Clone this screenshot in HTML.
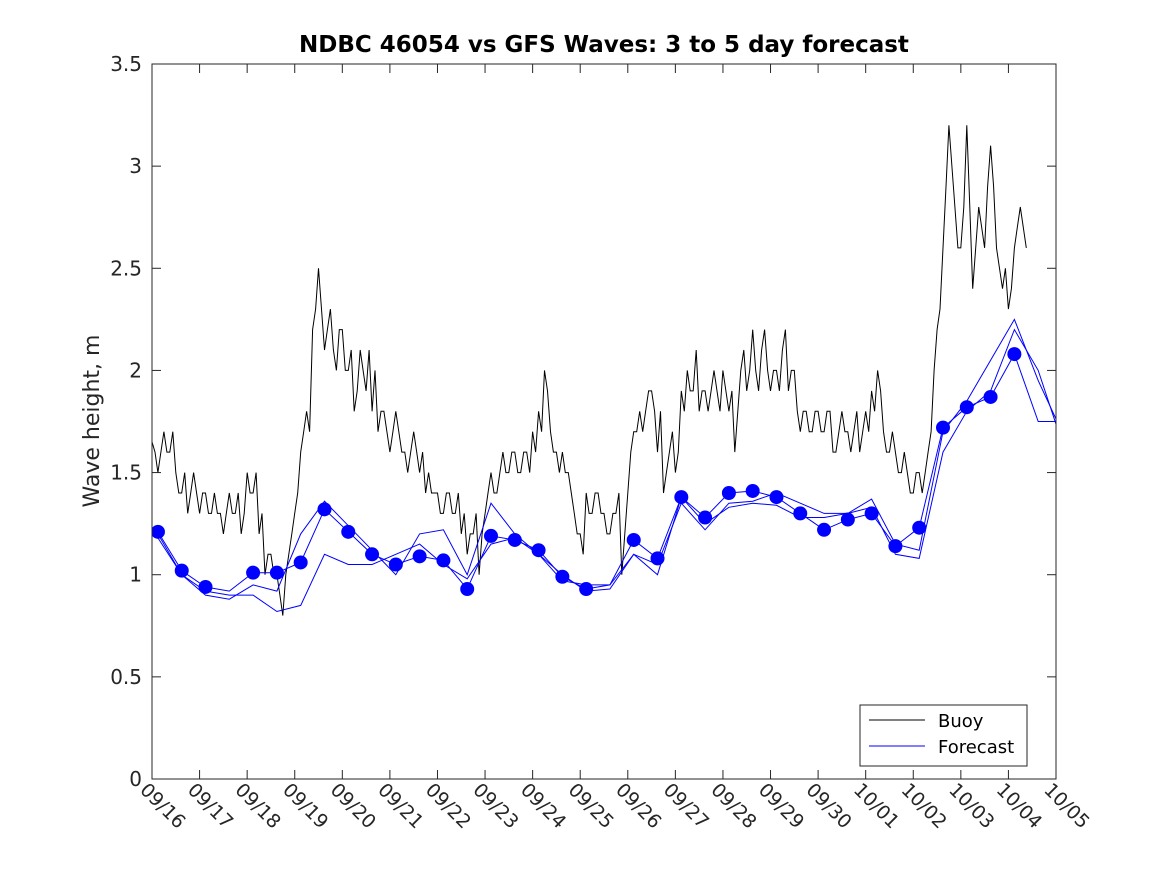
<!DOCTYPE html>
<html><head><meta charset="utf-8"><style>
html,body{margin:0;padding:0;background:#fff;}
svg{display:block;font-family:"DejaVu Sans","Liberation Sans",sans-serif;}
</style></head><body>
<svg id="chart" width="1167" height="875">
<rect x="0" y="0" width="1167" height="875" fill="#fff"/>
<text x="604" y="52" text-anchor="middle" font-size="23" font-weight="bold">NDBC 46054 vs GFS Waves: 3 to 5 day forecast</text>
<text transform="translate(99,421) rotate(-90)" text-anchor="middle" font-size="22" fill="#262626">Wave height, m</text>
<g id="plot"></g>
<g id="axes"></g>
<g>
<rect x="860" y="705" width="167" height="61" fill="#fff" stroke="#262626" stroke-width="1"/>
<line x1="869" y1="720" x2="925" y2="720" stroke="#000" stroke-width="1"/>
<text x="938" y="727" font-size="18" fill="#000">Buoy</text>
<line x1="869" y1="746" x2="925" y2="746" stroke="#0000ff" stroke-width="1"/>
<text x="938" y="753" font-size="18" fill="#000">Forecast</text>
</g>
</svg>
<script>
const xTickLabels=["09/16","09/17","09/18","09/19","09/20","09/21","09/22","09/23","09/24","09/25","09/26","09/27","09/28","09/29","09/30","10/01","10/02","10/03","10/04","10/05"];
const yTicks=[0,0.5,1,1.5,2,2.5,3,3.5];
const buoyStep=0.0625;
const buoyValues=[1.65,1.6,1.5,1.6,1.7,1.6,1.6,1.7,1.5,1.4,1.4,1.5,1.3,1.4,1.5,1.4,1.3,1.4,1.4,1.3,1.3,1.4,1.3,1.3,1.2,1.3,1.4,1.3,1.3,1.4,1.2,1.3,1.5,1.4,1.4,1.5,1.2,1.3,1.0,1.1,1.1,1.0,1.0,0.9,0.8,1.0,1.1,1.2,1.3,1.4,1.6,1.7,1.8,1.7,2.2,2.3,2.5,2.3,2.1,2.2,2.3,2.1,2.0,2.2,2.2,2.0,2.0,2.1,1.8,1.9,2.1,2.0,1.9,2.1,1.8,2.0,1.7,1.8,1.8,1.7,1.6,1.7,1.8,1.7,1.6,1.6,1.5,1.6,1.7,1.6,1.5,1.6,1.4,1.5,1.4,1.4,1.4,1.3,1.3,1.4,1.4,1.3,1.3,1.4,1.2,1.3,1.1,1.2,1.2,1.3,1.0,1.2,1.3,1.4,1.5,1.4,1.4,1.5,1.6,1.5,1.5,1.6,1.6,1.5,1.5,1.6,1.6,1.5,1.7,1.6,1.8,1.7,2.0,1.9,1.7,1.6,1.6,1.5,1.6,1.5,1.5,1.4,1.3,1.2,1.2,1.1,1.4,1.3,1.3,1.4,1.4,1.3,1.3,1.2,1.2,1.3,1.3,1.4,1.0,1.2,1.4,1.6,1.7,1.7,1.8,1.7,1.8,1.9,1.9,1.8,1.6,1.8,1.4,1.5,1.6,1.7,1.5,1.6,1.9,1.8,2.0,1.9,1.9,2.1,1.8,1.9,1.9,1.8,1.9,2.0,1.9,1.8,2.0,1.9,1.8,1.9,1.6,1.8,2.0,2.1,1.9,2.0,2.2,2.0,1.9,2.1,2.2,2.0,1.9,2.0,2.0,1.9,2.1,2.2,1.9,2.0,2.0,1.8,1.7,1.8,1.8,1.7,1.7,1.8,1.8,1.7,1.7,1.8,1.8,1.6,1.6,1.7,1.8,1.7,1.7,1.6,1.7,1.8,1.6,1.7,1.8,1.7,1.9,1.8,2.0,1.9,1.7,1.6,1.6,1.7,1.6,1.5,1.5,1.6,1.5,1.4,1.4,1.5,1.5,1.4,1.5,1.6,1.7,2.0,2.2,2.3,2.6,2.9,3.2,3.0,2.8,2.6,2.6,2.8,3.2,2.8,2.4,2.6,2.8,2.7,2.6,2.9,3.1,2.9,2.6,2.5,2.4,2.5,2.3,2.4,2.6,2.7,2.8,2.7,2.6];
const fcStart=0.125, fcStep=0.5;
const forecastA=[1.21,1.02,0.94,0.92,1.01,1.01,1.06,1.32,1.21,1.10,1.05,1.09,1.07,0.93,1.19,1.17,1.12,0.99,0.93,0.95,1.17,1.08,1.38,1.28,1.40,1.41,1.38,1.30,1.22,1.27,1.30,1.14,1.23,1.72,1.82,1.87,2.08,1.75,1.75];
const forecastB=[1.18,1.0,0.9,0.88,0.95,0.92,1.2,1.36,1.24,1.12,1.0,1.2,1.22,1.0,1.35,1.2,1.1,0.97,0.95,0.95,1.1,1.05,1.35,1.22,1.35,1.36,1.4,1.35,1.3,1.3,1.37,1.15,1.12,1.7,1.85,2.05,2.25,1.95,1.7];
const forecastC=[1.2,1.0,0.92,0.9,0.9,0.82,0.85,1.1,1.05,1.05,1.1,1.15,1.05,0.98,1.15,1.18,1.1,1.0,0.92,0.93,1.1,1.0,1.38,1.25,1.33,1.35,1.34,1.28,1.28,1.3,1.33,1.1,1.08,1.6,1.8,1.9,2.2,2.0,1.65];
const dotValues=[1.21,1.02,0.94,null,1.01,1.01,1.06,1.32,1.21,1.10,1.05,1.09,1.07,0.93,1.19,1.17,1.12,0.99,0.93,null,1.17,1.08,1.38,1.28,1.40,1.41,1.38,1.30,1.22,1.27,1.30,1.14,1.23,1.72,1.82,1.87,2.08];

const L=152,R=1056,T=64,B=779,NS="http://www.w3.org/2000/svg";
const xs=d=>L+(R-L)*d/19;
const ys=v=>B-(B-T)*v/3.5;
const plot=document.getElementById('plot'), axes=document.getElementById('axes');
function mk(tag,attrs,parent){const e=document.createElementNS(NS,tag);for(const k in attrs)e.setAttribute(k,attrs[k]);parent.appendChild(e);return e;}

const cp=mk('clipPath',{id:'cp'},plot);mk('rect',{x:L,y:T,width:R-L,height:B-T},cp);
const g=mk('g',{'clip-path':'url(#cp)'},plot);

const bp=mk('polyline',{points:buoyValues.map((v,i)=>xs(i*buoyStep).toFixed(1)+','+ys(v).toFixed(1)).join(' '),fill:'none',stroke:'#000','stroke-width':1},g);



[forecastA,forecastB,forecastC].forEach((arr,j)=>{
  const p=mk('polyline',{points:arr.map((v,i)=>xs(fcStart+i*fcStep).toFixed(1)+','+ys(v).toFixed(1)).join(' '),fill:'none',stroke:'#0000ff','stroke-width':1},g);
  
  
});
dotValues.forEach((v,i)=>{
  if(v===null)return;
  const c=mk('circle',{cx:xs(fcStart+i*fcStep),cy:ys(v),r:7,fill:'#0000ff'},g);
  
  
});

const frame=mk('rect',{x:L,y:T,width:R-L,height:B-T,fill:'none',stroke:'#262626','stroke-width':1},axes);


yTicks.forEach(v=>{
  const y=ys(v);
  mk('line',{x1:L,y1:y,x2:L+9,y2:y,stroke:'#262626'},axes);
  mk('line',{x1:R,y1:y,x2:R-9,y2:y,stroke:'#262626'},axes);
  const t=mk('text',{x:L-10,y:y+7,'text-anchor':'end','font-size':20,fill:'#262626'},axes);
  t.textContent=String(v);
  
  
});
xTickLabels.forEach((s,i)=>{
  const x=xs(i);
  mk('line',{x1:x,y1:B,x2:x,y2:B-9,stroke:'#262626'},axes);
  mk('line',{x1:x,y1:T,x2:x,y2:T+9,stroke:'#262626'},axes);
  const t=mk('text',{transform:'translate('+(x-13)+','+(B+12)+') rotate(45)','font-size':19,fill:'#262626'},axes);
  t.textContent=s;
  
  
});
</script>
</body></html>
